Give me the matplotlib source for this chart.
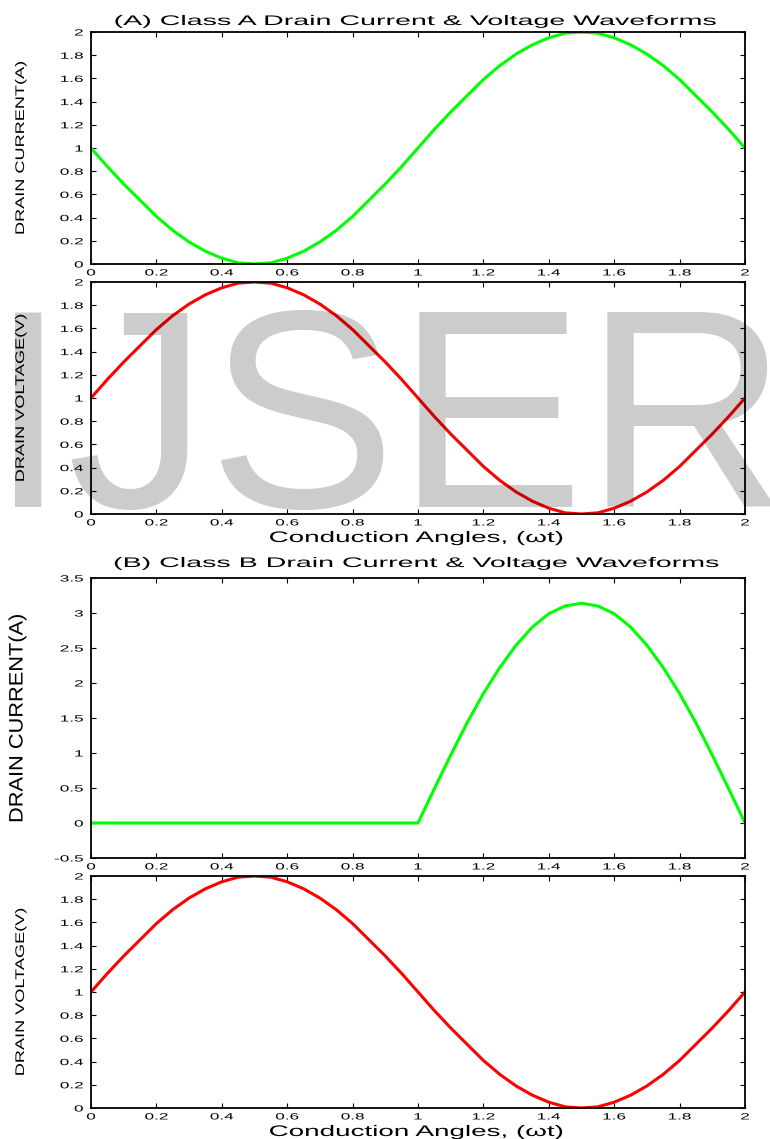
import matplotlib
matplotlib.use("Agg")
import matplotlib.pyplot as plt
from matplotlib.patheffects import AbstractPathEffect
from matplotlib.transforms import Affine2D

# ---------------- data ----------------
x_angle = [0.00, 0.05, 0.10, 0.15, 0.20, 0.25, 0.30, 0.35, 0.40, 0.45,
           0.50, 0.55, 0.60, 0.65, 0.70, 0.75, 0.80, 0.85, 0.90, 0.95,
           1.00, 1.05, 1.10, 1.15, 1.20, 1.25, 1.30, 1.35, 1.40, 1.45,
           1.50, 1.55, 1.60, 1.65, 1.70, 1.75, 1.80, 1.85, 1.90, 1.95, 2.00]

classA_current = [1.00, 0.84, 0.69, 0.55, 0.41, 0.29, 0.19, 0.11, 0.05, 0.01,
                  0.00, 0.01, 0.05, 0.11, 0.19, 0.29, 0.41, 0.55, 0.69, 0.84,
                  1.00, 1.16, 1.31, 1.45, 1.59, 1.71, 1.81, 1.89, 1.95, 1.99,
                  2.00, 1.99, 1.95, 1.89, 1.81, 1.71, 1.59, 1.45, 1.31, 1.16, 1.00]

classA_voltage = [1.00, 1.16, 1.31, 1.45, 1.59, 1.71, 1.81, 1.89, 1.95, 1.99,
                  2.00, 1.99, 1.95, 1.89, 1.81, 1.71, 1.59, 1.45, 1.31, 1.16,
                  1.00, 0.84, 0.69, 0.55, 0.41, 0.29, 0.19, 0.11, 0.05, 0.01,
                  0.00, 0.01, 0.05, 0.11, 0.19, 0.29, 0.41, 0.55, 0.69, 0.84, 1.00]

classB_current = [0.00, 0.00, 0.00, 0.00, 0.00, 0.00, 0.00, 0.00, 0.00, 0.00,
                  0.00, 0.00, 0.00, 0.00, 0.00, 0.00, 0.00, 0.00, 0.00, 0.00,
                  0.00, 0.49, 0.97, 1.43, 1.85, 2.22, 2.54, 2.80, 2.99, 3.10,
                  3.14, 3.10, 2.99, 2.80, 2.54, 2.22, 1.85, 1.43, 0.97, 0.49, 0.00]

classB_voltage = [1.00, 1.16, 1.31, 1.45, 1.59, 1.71, 1.81, 1.89, 1.95, 1.99,
                  2.00, 1.99, 1.95, 1.89, 1.81, 1.71, 1.59, 1.45, 1.31, 1.16,
                  1.00, 0.84, 0.69, 0.55, 0.41, 0.29, 0.19, 0.11, 0.05, 0.01,
                  0.00, 0.01, 0.05, 0.11, 0.19, 0.29, 0.41, 0.55, 0.69, 0.84, 1.00]

x_ticks = [0, 0.2, 0.4, 0.6, 0.8, 1.0, 1.2, 1.4, 1.6, 1.8, 2.0]
x_ticklabels = ["0", "0.2", "0.4", "0.6", "0.8", "1", "1.2", "1.4", "1.6", "1.8", "2"]
y_ticks_02 = [0, 0.2, 0.4, 0.6, 0.8, 1.0, 1.2, 1.4, 1.6, 1.8, 2.0]
y_ticklabels_02 = ["0", "0.2", "0.4", "0.6", "0.8", "1", "1.2", "1.4", "1.6", "1.8", "2"]
y_ticks_B = [-0.5, 0, 0.5, 1.0, 1.5, 2.0, 2.5, 3.0, 3.5]
y_ticklabels_B = ["-0.5", "0", "0.5", "1", "1.5", "2", "2.5", "3", "3.5"]

title_A = "(A) Class A Drain Current & Voltage Waveforms"
title_B = "(B) Class B Drain Current & Voltage Waveforms"
x_label = "Conduction Angles, (\u03c9t)"
ylab_current = "DRAIN CURRENT(A)"
ylab_voltage = "DRAIN VOLTAGE(V)"


# ---------------- helper: horizontally stretched text ----------------
class Stretch(AbstractPathEffect):
    """Scale a text path along its own baseline direction."""
    def __init__(self, sx=1.0, anchor="center"):
        super().__init__()
        self.sx = sx
        self.anchor = anchor

    def draw_path(self, renderer, gc, tpath, affine, rgbFace=None):
        ext = tpath.get_extents()
        if self.anchor == "right":
            cx = ext.x1
        elif self.anchor == "left":
            cx = ext.x0
        else:
            cx = 0.5 * (ext.x0 + ext.x1)
        t = Affine2D().translate(-cx, 0).scale(self.sx, 1.0).translate(cx, 0) + affine
        renderer.draw_path(gc, tpath, t, rgbFace)


FONT = "Liberation Sans"
W, H = 770, 1139
fig = plt.figure(figsize=(W / 100, H / 100), dpi=100)
fig.patch.set_facecolor("white")


def px_axes(left, top, right, bottom):
    return fig.add_axes([left / W, 1 - bottom / H, (right - left) / W, (bottom - top) / H])


def style_axes(ax, yticks, yticklabels, ylim):
    ax.set_xlim(0, 2)
    ax.set_ylim(*ylim)
    ax.set_xticks(x_ticks)
    ax.set_xticklabels(x_ticklabels)
    ax.set_yticks(yticks)
    ax.set_yticklabels(yticklabels)
    ax.tick_params(direction="in", length=3.6, width=0.8, top=True, right=True,
                   labelsize=6.5, colors="black")
    ax.tick_params(axis="x", pad=3.2)
    ax.tick_params(axis="y", pad=5.6)
    for s in ax.spines.values():
        s.set_linewidth(1.3)
        s.set_color("black")
    for lbl in ax.get_xticklabels():
        lbl.set_fontfamily(FONT)
        lbl.set_path_effects([Stretch(1.9, "center")])
    for lbl in ax.get_yticklabels():
        lbl.set_fontfamily(FONT)
        lbl.set_path_effects([Stretch(1.9, "right")])


def ylabel(ax, text, xpix, size, sx):
    left = ax.get_position().x0 * W
    width = ax.get_position().width * W
    ax.text((xpix - left) / width, 0.5, text, rotation=90, ha="center", va="center",
            transform=ax.transAxes, fontsize=size, family=FONT,
            path_effects=[Stretch(sx, "center")])


def ftext(xpix, ypix, text, size, sx):
    fig.text(xpix / W, 1 - ypix / H, text, ha="center", va="baseline", fontsize=size,
             family=FONT, path_effects=[Stretch(sx, "center")])


ax1 = px_axes(91, 32, 745, 264)
ax2 = px_axes(91, 282, 745, 514)
ax3 = px_axes(91, 578, 745, 858)
ax4 = px_axes(91, 876, 745, 1108)

ax1.plot(x_angle, classA_current, color="#00ff00", lw=2.2, solid_joinstyle="round")
ax2.plot(x_angle, classA_voltage, color="#ff0000", lw=2.2, solid_joinstyle="round")
ax3.plot(x_angle, classB_current, color="#00ff00", lw=2.2, solid_joinstyle="round")
ax4.plot(x_angle, classB_voltage, color="#ff0000", lw=2.2, solid_joinstyle="round")

style_axes(ax1, y_ticks_02, y_ticklabels_02, (0, 2))
style_axes(ax2, y_ticks_02, y_ticklabels_02, (0, 2))
style_axes(ax3, y_ticks_B, y_ticklabels_B, (-0.5, 3.5))
style_axes(ax4, y_ticks_02, y_ticklabels_02, (0, 2))

ylabel(ax1, ylab_current, 21, 9, 1.45)
ylabel(ax2, ylab_voltage, 21, 9, 1.45)
ylabel(ax3, ylab_current, 18, 14, 1.12)
ylabel(ax4, ylab_voltage, 21, 9, 1.45)

ftext(416, 25, title_A, 10, 2.06)
ftext(417, 567, title_B, 10, 2.06)
ftext(416, 542, x_label, 11, 1.82)
ftext(416, 1136, x_label, 11, 1.82)

# watermark overlay
fig.text(-11 / W, 1 - 507 / H, "IJSER", fontsize=203, family=FONT, color="black",
         alpha=0.2, ha="left", va="baseline", zorder=10)

fig.savefig("out.png", dpi=100, facecolor="white")
